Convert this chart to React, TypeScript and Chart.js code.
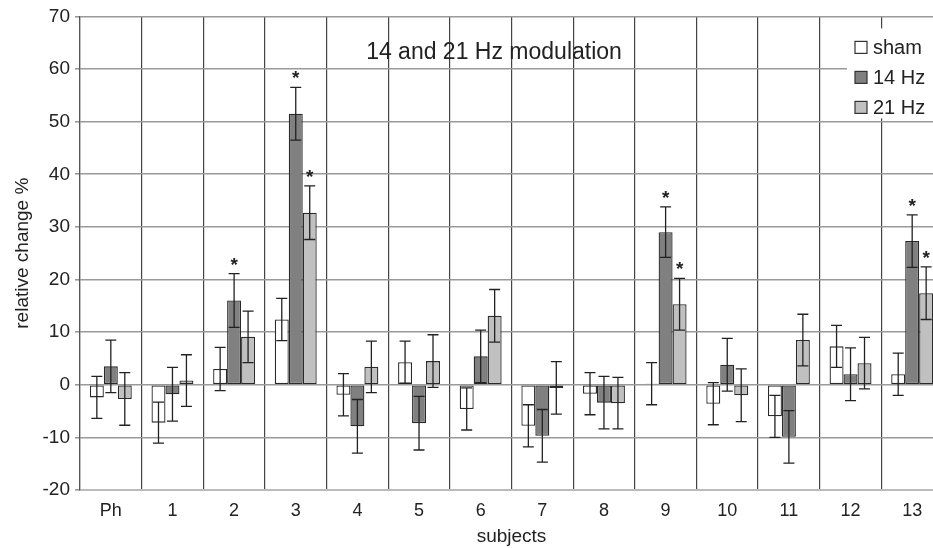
import React, { useEffect, useRef } from "react";
import { Chart, registerables } from "chart.js";

Chart.register(...registerables);

const categories = ["Ph", "1", "2", "3", "4", "5", "6", "7", "8", "9", "10", "11", "12", "13"];
const seriesLabels = ["sham", "14 Hz", "21 Hz"];
const sham = [-2.4, -7.2, 3.0, 12.4, -1.9, 4.3, -4.6, -7.8, -1.7, 0.2, -3.6, -6.0, 7.3, 2.0];
const shamErr = [4.0, 3.9, 4.1, 4.0, 4.0, 4.0, 4.0, 4.0, 4.0, 4.0, 4.0, 4.0, 4.0, 4.0];
const hz14 = [3.5, -1.8, 16.0, 51.5, -7.9, -7.3, 5.4, -9.7, -3.4, 29.0, 3.8, -9.9, 2.0, 27.3];
const hz14Err = [5.0, 5.1, 5.1, 5.0, 5.1, 5.1, 5.0, 5.0, 5.0, 4.8, 5.0, 5.0, 5.0, 5.0];
const hz21 = [-2.7, 0.8, 9.1, 32.7, 3.4, 4.5, 13.1, -0.6, -3.5, 15.3, -2.0, 8.5, 4.1, 17.4];
const hz21Err = [5.0, 4.9, 4.9, 5.1, 4.9, 5.0, 5.0, 5.0, 4.9, 4.9, 5.0, 4.9, 4.9, 5.0];
const shamSig = [0, 0, 0, 0, 0, 0, 0, 0, 0, 0, 0, 0, 0, 0];
const hz14Sig = [0, 0, 1, 1, 0, 0, 0, 0, 0, 1, 0, 0, 0, 1];
const hz21Sig = [0, 0, 0, 1, 0, 0, 0, 0, 0, 1, 0, 0, 0, 1];
const yTicks = [-20, -10, 0, 10, 20, 30, 40, 50, 60, 70];
const chartTitle = "14 and 21 Hz modulation";

const FONT = "'Liberation Sans', Arial, Helvetica, sans-serif";
const TEXT = "#222";
const fills = ["#ffffff", "#808080", "#c0c0c0"];
const errors = [shamErr, hz14Err, hz21Err];
const sigs = [shamSig, hz14Sig, hz21Sig];

const errorBarPlugin = {
  id: "errorBars",
  afterDatasetsDraw(chart: any) {
    const ctx = chart.ctx;
    const y = chart.scales.y;
    ctx.save();
    ctx.strokeStyle = "#222";
    ctx.lineWidth = 1.3;
    chart.data.datasets.forEach((ds: any, di: number) => {
      const meta = chart.getDatasetMeta(di);
      meta.data.forEach((bar: any, i: number) => {
        const v = ds.data[i];
        const e = errors[di][i];
        const yt = y.getPixelForValue(v + e);
        const yb = y.getPixelForValue(v - e);
        const x = bar.x;
        const cw = 5.5;
        ctx.beginPath();
        ctx.moveTo(x, yt);
        ctx.lineTo(x, yb);
        ctx.moveTo(x - cw, yt);
        ctx.lineTo(x + cw, yt);
        ctx.moveTo(x - cw, yb);
        ctx.lineTo(x + cw, yb);
        ctx.stroke();
        if (sigs[di][i]) {
          ctx.fillStyle = TEXT;
          ctx.font = `bold 19px ${FONT}`;
          ctx.textAlign = "center";
          ctx.textBaseline = "alphabetic";
          ctx.fillText("*", x, yt - 3);
        }
      });
    });
    ctx.restore();
  },
};

const overlayPlugin = {
  id: "overlay",
  afterDraw(chart: any) {
    const ctx = chart.ctx;
    const a = chart.chartArea;
    ctx.save();
    // title inside plot
    ctx.fillStyle = TEXT;
    ctx.font = `23px ${FONT}`;
    ctx.textAlign = "center";
    ctx.textBaseline = "alphabetic";
    ctx.fillText(chartTitle, a.left + 414, a.top + 43);
    // legend box
    const bx = a.left + 767;
    const by = a.top + 12;
    ctx.fillStyle = "#fff";
    ctx.fillRect(bx, by, 120, 90);
    ctx.font = `20px ${FONT}`;
    ctx.textAlign = "left";
    ctx.textBaseline = "middle";
    seriesLabels.forEach((lab, i) => {
      const cy = by + 19 + i * 30;
      ctx.fillStyle = fills[i];
      ctx.fillRect(bx + 8, cy - 6, 12, 12);
      ctx.strokeStyle = "#333";
      ctx.lineWidth = 1.2;
      ctx.strokeRect(bx + 8, cy - 6, 12, 12);
      ctx.fillStyle = TEXT;
      ctx.fillText(lab, bx + 26, cy + 1);
    });
    ctx.restore();
  },
};

export default function App() {
  const ref = useRef<HTMLCanvasElement | null>(null);
  useEffect(() => {
    if (!ref.current) return;
    const mk = (label: string, data: number[], i: number) => ({
      label,
      data,
      backgroundColor: fills[i],
      borderColor: "#2a2a2a",
      borderWidth: 1.3,
      borderSkipped: false,
      barPercentage: 1.0,
      categoryPercentage: 0.68,
    });
    const chart = new Chart(ref.current, {
      type: "bar",
      data: {
        labels: categories,
        datasets: [mk(seriesLabels[0], sham, 0), mk(seriesLabels[1], hz14, 1), mk(seriesLabels[2], hz21, 2)],
      },
      options: {
        animation: false,
        responsive: false,
        devicePixelRatio: 1,
        layout: { padding: { top: 15, right: 17, left: 0, bottom: 0 } },
        plugins: { legend: { display: false }, tooltip: { enabled: false }, title: { display: false } },
        scales: {
          x: {
            grid: { color: "#444", lineWidth: 1.2, drawTicks: false, offset: true },
            border: { color: "#bbb", width: 2 },
            ticks: { color: TEXT, font: { family: FONT, size: 18 }, padding: 10, maxRotation: 0 },
            title: { display: true, text: "subjects", color: TEXT, font: { family: FONT, size: 19 }, padding: { top: 0, bottom: 0 } },
            afterFit: (s: any) => { s.height = 58; },
          },
          y: {
            min: -20,
            max: 70,
            afterBuildTicks: (s: any) => { s.ticks = yTicks.map((v) => ({ value: v })); },
            grid: { color: "#999", lineWidth: 1.6, tickLength: 5 },
            border: { color: "#555", width: 1.2 },
            ticks: { color: TEXT, font: { family: FONT, size: 19 }, padding: 5 },
            title: { display: true, text: "relative change %", color: TEXT, font: { family: FONT, size: 19 }, padding: { top: 11, bottom: 0 } },
            afterFit: (s: any) => { s.width = 80; },
          },
        },
      },
      plugins: [errorBarPlugin, overlayPlugin],
    } as any);
    return () => chart.destroy();
  }, []);
  return (
    <div style={{ position: "absolute", left: 0, top: 0, width: 933, height: 548, overflow: "hidden", background: "#fff" }}>
      <canvas ref={ref} width={960} height={548} style={{ display: "block", width: 960, height: 548 }} />
    </div>
  );
}
